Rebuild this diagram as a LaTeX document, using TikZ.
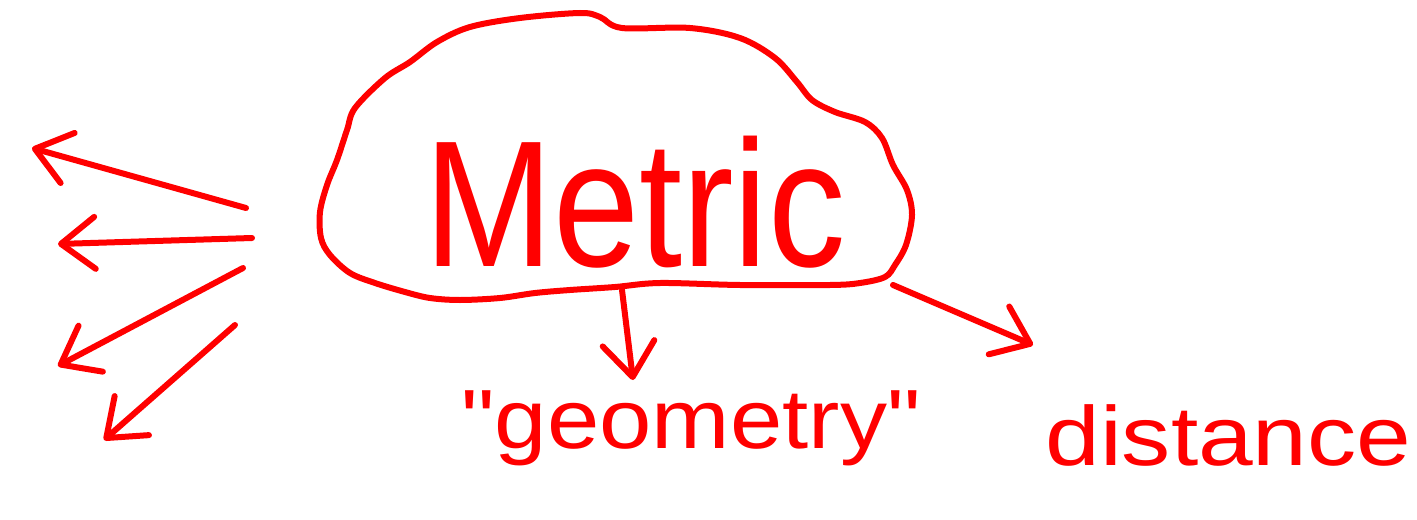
\documentclass[tikz,border=0pt]{standalone}
\usepackage{fontspec}
\setmainfont{Liberation Sans}
\newfontfamily\qfont{Liberation Sans}[Ligatures=ResetAll]
\usetikzlibrary{arrows.meta}
\definecolor{ink}{RGB}{255,0,0}
\tikzset{
  pen/.style={draw=ink, line width=3pt, line cap=round, line join=round},
  arr/.style={pen, -{Straight Barb[length=17pt,width=26pt,line cap=round,line join=round]}},
  word/.style={text=ink, inner sep=0pt},
}
\begin{document}
\begin{tikzpicture}[x=0.5pt,y=-0.5pt]
\useasboundingbox (0,0) rectangle (1417,519);
% cloud
\draw[pen] plot[smooth cycle, tension=0.55] coordinates {
 (355,108) (385,78) (410,62) (437,42) (470,27) (520,18) (580,13) (600,17) (622,28)
 (690,28) (740,38) (775,58) (797,82) (812,100) (835,112) (865,122) (882,138)
 (893,165) (907,190) (912,215) (906,245) (895,265) (885,277)
 (860,283) (830,285) (740,285) (660,283) (615,287) (570,290) (535,293) (500,298)
 (460,300) (430,298) (405,292) (375,283) (350,273) (330,255) (321,238) (320,212)
 (327,185) (337,160) (347,130)};
\node[word, anchor=base] (metric) at (635,266) {\fontsize{90}{95}\selectfont\scalebox{0.86}[1]{Metric}};
\node[word, anchor=base] (geom) at (691,448) {\qfont\fontsize{42}{46}\selectfont\scalebox{1.12}[1]{"geometry"}};
\node[word, anchor=base west] (dist) at (1045,465) {\fontsize{42}{46}\selectfont\scalebox{1.17}[1]{distance}};
% connector ends
\coordinate (cb) at (622,290);
\coordinate (cr) at (893,285);
\coordinate (s1) at (246,208); \coordinate (t1) at (32,148);
\coordinate (s2) at (252,238); \coordinate (t2) at (58,244);
\coordinate (s3) at (243,268); \coordinate (t3) at (58,366);
\coordinate (s4) at (235,325); \coordinate (t4) at (104,440);
\coordinate (tg) at (633,380);
\coordinate (td) at (1033,345);
\draw[arr] (s1) -- (t1);
\draw[arr] (s2) -- (t2);
\draw[arr] (s3) -- (t3);
\draw[arr] (s4) -- (t4);
\draw[arr] (cb) -- (tg);
\draw[arr] (cr) -- (td);
\end{tikzpicture}
\end{document}
